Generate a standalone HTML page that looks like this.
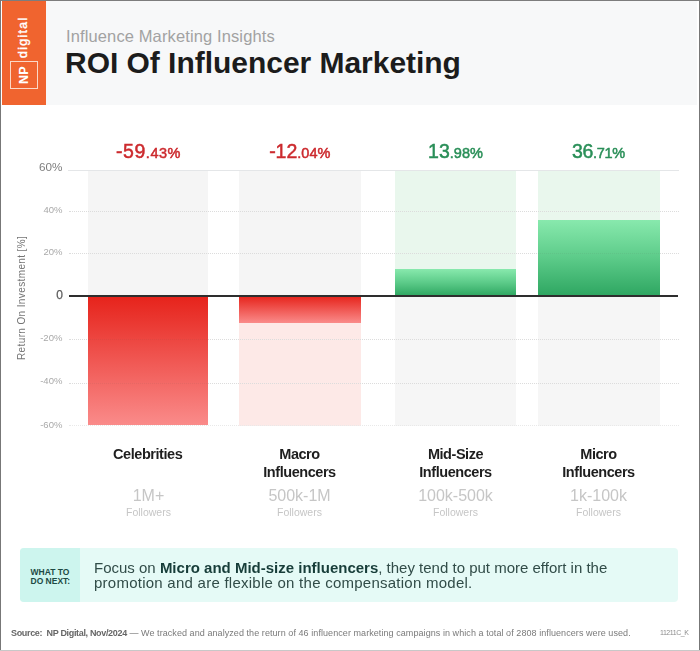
<!DOCTYPE html>
<html><head><meta charset="utf-8">
<style>
*{margin:0;padding:0;box-sizing:border-box}
html,body{width:700px;height:651px;overflow:hidden;background:#fff}
body{font-family:"Liberation Sans",sans-serif;position:relative}
.a{position:absolute;white-space:nowrap}
.hdr{left:2px;top:1px;width:695px;height:104.3px;background:#f7f8f9}
.logo{left:2px;top:1px;width:44.1px;height:104.3px;background:#f0642f}
.npbox{left:10px;top:61px;width:28px;height:28px;border:1.5px solid #fbd7c6}
.rot{transform:rotate(-90deg);transform-origin:0 0}
.col{width:121px}
.grid{left:69px;width:610px;height:0;border-top:1px dotted #e9e9e9}
.ylab{width:40px;text-align:right;left:22.4px;font-size:9.5px;color:#a9a9a9;line-height:10px}
.pct{width:121px;text-align:center;font-size:19.5px;line-height:20px;top:140.5px;-webkit-text-stroke:0.5px currentColor}
.pct span{font-size:14.5px}
.cat{width:161px;text-align:center;font-size:14.5px;font-weight:bold;color:#1e1e1e;line-height:18px;letter-spacing:-0.45px}
.rng{width:161px;text-align:center;font-size:16px;color:#c6c6c6;line-height:16px;top:488.4px}
.fol{width:161px;text-align:center;font-size:10.5px;color:#c6c6c6;line-height:11px;top:506.6px}
</style></head><body>
<div id="wrap" style="position:absolute;left:0;top:0;width:700px;height:651px;filter:blur(0.35px)">
<!-- header -->
<div class="a hdr"></div>
<div class="a logo"></div>
<div class="a npbox"></div>
<div class="a rot" id="np" style="left:18.2px;top:84px;font-size:12.5px;font-weight:bold;color:#fff;line-height:12px;letter-spacing:0.2px">NP</div>
<div class="a rot" id="dig" style="left:15.2px;top:58.3px;font-size:12.2px;color:#fff;line-height:16px;letter-spacing:1.4px;-webkit-text-stroke:0.4px #fff">digital</div>
<div class="a" id="sub" style="left:66px;top:25.5px;font-size:16.5px;color:#a2a2a2;line-height:20px;letter-spacing:0.12px">Influence Marketing Insights</div>
<div class="a" id="ttl" style="left:65px;top:46.8px;font-size:30px;font-weight:bold;color:#1c1c1c;line-height:32px;letter-spacing:-0.03px">ROI Of Influencer Marketing</div>

<!-- column backgrounds -->
<div class="a col" style="left:87.6px;width:120.8px;top:170px;height:126px;background:#f5f5f5"></div>
<div class="a col" style="left:239px;width:121.5px;top:170px;height:126px;background:#f5f5f5"></div>
<div class="a col" style="left:239px;width:121.5px;top:296px;height:130px;background:#fde9e7"></div>
<div class="a col" style="left:395px;top:170px;height:126px;background:#e9f7ed"></div>
<div class="a col" style="left:395px;top:296px;height:130px;background:#f6f6f6"></div>
<div class="a col" style="left:538.4px;width:121.2px;top:170px;height:126px;background:#e9f7ed"></div>
<div class="a col" style="left:538.4px;width:121.2px;top:296px;height:130px;background:#f6f6f6"></div>

<!-- grid -->
<div class="a" style="left:68px;top:170px;width:611px;height:1px;background:#e4e6e8"></div>
<div class="a grid" style="top:211px"></div>
<div class="a grid" style="top:253px"></div>
<div class="a grid" style="top:338.5px"></div>
<div class="a grid" style="top:382.5px"></div>
<div class="a grid" style="top:425.3px"></div>

<!-- bars -->
<div class="a col" style="left:87.6px;width:120.8px;top:296px;height:129.2px;background:linear-gradient(#e6231b,#fa8b8a)"></div>
<div class="a col" style="left:239px;width:121.5px;top:296px;height:26.5px;background:linear-gradient(#e6231b,#fa8b8a)"></div>
<div class="a col" style="left:395px;top:268.5px;height:27.5px;background:linear-gradient(#88e9ad,#5ccb89 50%,#2ea661)"></div>
<div class="a col" style="left:538.4px;width:121.2px;top:220px;height:76px;background:linear-gradient(#88e9ad,#5ccb89 50%,#2ea661)"></div>

<!-- grid overlay -->
<div class="a grid" style="top:211px;border-top-color:rgba(90,90,90,0.09)"></div>
<div class="a grid" style="top:253px;border-top-color:rgba(90,90,90,0.09)"></div>
<div class="a grid" style="top:338.5px;border-top-color:rgba(90,90,90,0.09)"></div>
<div class="a grid" style="top:382.5px;border-top-color:rgba(90,90,90,0.09)"></div>
<div class="a" style="left:69px;top:295.2px;width:609px;height:1.8px;background:#2e2e2e"></div>

<!-- y labels -->
<div class="a ylab" style="top:160.8px;font-size:11.7px;color:#7e7e7e;line-height:12px">60%</div>
<div class="a ylab" style="top:205.2px">40%</div>
<div class="a ylab" style="top:247.2px">20%</div>
<div class="a ylab" style="top:288.7px;left:22.9px;font-size:12px;color:#5c5c5c;line-height:12px;-webkit-text-stroke:0.25px #5c5c5c">0</div>
<div class="a ylab" style="top:333px">-20%</div>
<div class="a ylab" style="top:376px">-40%</div>
<div class="a ylab" style="top:420px">-60%</div>
<div class="a rot" id="yaxis" style="left:15.5px;top:359.5px;font-size:10px;color:#747474;line-height:12px;letter-spacing:0.38px">Return On Investment [%]</div>

<!-- pct labels -->
<div class="a pct" id="p1" style="left:88px;letter-spacing:0.55px;color:#cc2a2e">-59<span>.43%</span></div>
<div class="a pct" id="p2" style="left:239px;width:121.5px;color:#cc2a2e">-12<span>.04%</span></div>
<div class="a pct" id="p3" style="left:395px;color:#2a8f58">13<span>.98%</span></div>
<div class="a pct" id="p4" style="left:538px;letter-spacing:-0.3px;color:#2a8f58">36<span>.71%</span></div>

<!-- categories -->
<div class="a cat" id="c1" style="left:67.2px;top:444.8px">Celebrities</div>
<div class="a cat" id="c2" style="left:219px;top:444.7px;line-height:18.7px">Macro<br>Influencers</div>
<div class="a cat" id="c3" style="left:375px;top:444.7px;line-height:18.7px">Mid-Size<br>Influencers</div>
<div class="a cat" id="c4" style="left:518px;top:444.7px;line-height:18.7px">Micro<br>Influencers</div>
<div class="a rng" id="r1" style="left:68px">1M+</div>
<div class="a rng" id="r2" style="left:219px">500k-1M</div>
<div class="a rng" id="r3" style="left:375px">100k-500k</div>
<div class="a rng" id="r4" style="left:518px">1k-100k</div>
<div class="a fol" id="f1" style="left:68px">Followers</div>
<div class="a fol" id="f2" style="left:219px">Followers</div>
<div class="a fol" id="f3" style="left:375px">Followers</div>
<div class="a fol" id="f4" style="left:518px">Followers</div>

<!-- callout -->
<div class="a" style="left:19.5px;top:548px;width:658.3px;height:54px;background:#e5faf6;border-radius:4px"></div>
<div class="a" style="left:19.5px;top:548px;width:60.4px;height:54px;background:#cdf5ee;border-radius:4px 0 0 4px"></div>
<div class="a" id="wt" style="left:30.5px;top:567.7px;font-size:8.5px;font-weight:bold;color:#1d4a44;line-height:9px">WHAT TO<br>DO NEXT:</div>
<div class="a" id="co" style="left:94px;top:559.5px;font-size:15px;color:#314c48;line-height:15.5px;letter-spacing:0px">Focus on <b style="color:#173d39">Micro and Mid-size influencers</b>, they tend to put more effort in the<br><span style="letter-spacing:0.25px">promotion and are flexible on the compensation model.</span></div>

<!-- footer -->
<div class="a" id="src" style="left:11px;top:627.7px;letter-spacing:0.068px;font-size:9px;color:#7a7a7a;line-height:11px"><b style="color:#666;letter-spacing:-0.33px">Source:&nbsp; NP Digital, Nov/2024</b> — We tracked and analyzed the return of 46 influencer marketing campaigns in which a total of 2808 influencers were used.</div>
<div class="a" id="code" style="left:660px;top:628px;letter-spacing:-0.45px;font-size:7px;color:#8c8c8c;line-height:9px">11211C_K</div>

</div>
<!-- frame -->
<div class="a" style="left:0;top:0;width:700px;height:1px;background:#7d7d7d"></div>
<div class="a" style="left:0;top:0;width:1.4px;height:651px;background:#777"></div>
<div class="a" style="left:698.6px;top:0;width:1.4px;height:651px;background:#777"></div>
<div class="a" style="left:0;top:650px;width:700px;height:1px;background:#c8c8c8"></div>
</body></html>
